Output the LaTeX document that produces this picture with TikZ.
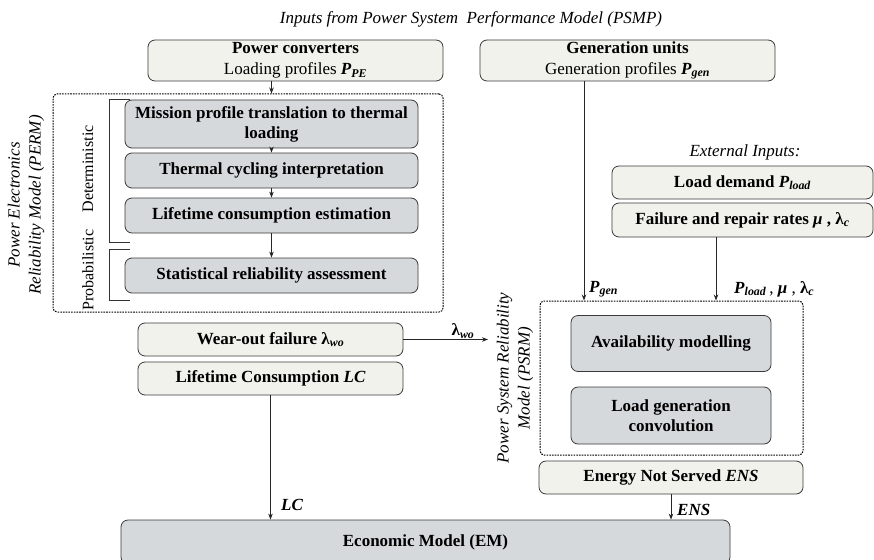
\documentclass[tikz,border=0pt]{standalone}
\usepackage{fontspec}
\setmainfont{Liberation Serif}
\usetikzlibrary{arrows.meta}
\definecolor{boxbeige}{HTML}{F2F2EC}
\definecolor{boxgrey}{HTML}{D6D9DB}
\definecolor{edge}{HTML}{3A3A3A}
\newcommand\bi[1]{\textbf{\textit{#1}}}
\newcommand\bsub[1]{\textsubscript{\bi{#1}}}
\begin{document}
\begin{tikzpicture}[x=1pt,y=-1pt,
  box/.style={draw=edge, line width=0.8pt, rounded corners=7pt, inner sep=0pt, align=center,
    font=\fontsize{17}{20}\selectfont\bfseries},
  beige/.style={box, fill=boxbeige},
  grey/.style={box, fill=boxgrey},
  dbox/.style={draw=black, line width=1pt, dash pattern=on 1.6pt off 1.1pt, rounded corners=4pt, inner sep=0pt},
  arr/.style={-{Stealth[length=6pt,width=4.5pt]}, line width=0.7pt, draw=black!85},
  lbl/.style={inner sep=0pt, font=\fontsize{17}{20}\selectfont},
  small/.style={inner sep=0pt, font=\fontsize{16}{19}\selectfont},
  ital/.style={inner sep=0pt, align=center, font=\fontsize{17}{21}\selectfont\itshape},
  brk/.style={line width=0.7pt, draw=black!80}
]
\useasboundingbox (0,0) rectangle (874,559);

% title
\node[ital] (title) at (471,19) {Inputs from Power System\ \ Performance Model (\textit{PSMP})};

% top inputs
\node[beige, minimum width=295pt, minimum height=41pt] (pc) at (295.5,60.5)
  {Power converters\\[1pt]\mdseries Loading profiles \bi{P}\bsub{PE}};
\node[beige, minimum width=295pt, minimum height=41pt] (gu) at (627.5,60.5)
  {Generation units\\[1pt]\mdseries Generation profiles \bi{P}\bsub{gen}};

% PERM
\node[dbox, minimum width=390pt, minimum height=218pt] (perm) at (248,203) {};
\node[grey, minimum width=293pt, minimum height=48pt] (mp) at (271.5,124)
  {Mission profile translation to thermal\\loading};
\node[grey, minimum width=293pt, minimum height=35pt] (tc) at (271.5,170.5)
  {Thermal cycling interpretation};
\node[grey, minimum width=293pt, minimum height=35pt] (lce) at (271.5,215.5)
  {Lifetime consumption estimation};
\node[grey, minimum width=293pt, minimum height=35pt] (sra) at (271.5,275.5)
  {Statistical reliability assessment};

\draw[arr] (mp.north |- pc.south) -- (mp.north |- perm.north);
\draw[arr] (mp) -- (tc);
\draw[arr] (tc) -- (lce);
\draw[arr] (lce) -- (sra);

% brackets
\coordinate (dt) at (130,99);
\coordinate (db) at (130,242);
\coordinate (pt) at (130,249);
\coordinate (pb) at (130,300);
\draw[brk] (dt) -- (109,99) -- (109,242) -- (db);
\draw[brk] (pt) -- (109,249) -- (109,300) -- (pb);
\node[small, rotate=90] (det) at (88,169) {Deterministic};
\node[small, rotate=90] (prob) at (88,270) {Probabilistic};
\node[ital, rotate=90] (permlbl) at (26,205) {Power Electronics\\Reliability Model (PERM)};

% outputs of PERM
\node[beige, minimum width=265pt, minimum height=33pt] (wo) at (270.5,339.5)
  {Wear-out failure \textbf{λ}\bsub{wo}};
\node[beige, minimum width=265pt, minimum height=33pt] (lcb) at (270.5,378.5)
  {Lifetime Consumption \bi{LC}};

\coordinate (woend) at (488,339.5);
\draw[arr] (wo.east) -- (woend);
\node[lbl] (lwo) at (463,331) {\textbf{λ}\bsub{wo}};

% external inputs
\node[ital] (ext) at (745,152) {External Inputs:};
\node[beige, minimum width=261pt, minimum height=33pt] (ld) at (742.5,182.5)
  {Load demand \bi{P}\bsub{load}};
\node[beige, minimum width=261pt, minimum height=34pt] (fr) at (742.5,220)
  {Failure and repair rates \bi{μ} , \textbf{λ}\bsub{c}};

% PSRM
\node[dbox, minimum width=263pt, minimum height=154pt] (psrm) at (671.5,378) {};
\node[grey, minimum width=200pt, minimum height=56pt] (av) at (671,343.5)
  {Availability modelling};
\node[grey, minimum width=200pt, minimum height=57pt] (lg) at (671,415.5)
  {Load generation\\convolution};
\node[ital, rotate=90] (psrmlbl) at (515,378) {Power System Reliability\\Model (PSRM)};

\draw[arr] ([xshift=-43.5pt]gu.south) -- ([xshift=-43.5pt]gu.south |- psrm.north);
\draw[arr] ([xshift=-26.5pt]fr.south) -- ([xshift=-26.5pt]fr.south |- psrm.north);
\node[lbl, anchor=west] (pgen) at (589,289) {\bi{P}\bsub{gen}};
\node[lbl, anchor=west] (plmu) at (734,289) {\bi{P}\bsub{load}\,, \bi{μ} , \textbf{λ}\bsub{c}};

\node[beige, minimum width=264pt, minimum height=33pt] (ens) at (671,477.5)
  {Energy Not Served \bi{ENS}};

% economic model
\node[grey, minimum width=609pt, minimum height=44pt] (em) at (425.5,542)
  {Economic Model (EM)};

\draw[arr] (lcb.south) -- (lcb.south |- em.north);
\draw[arr] (ens.south) -- (ens.south |- em.north);
\node[lbl, anchor=west] (lclbl) at (281,505) {\bi{LC}};
\node[lbl, anchor=west] (enslbl) at (677,510) {\bi{ENS}};
\end{tikzpicture}
\end{document}
